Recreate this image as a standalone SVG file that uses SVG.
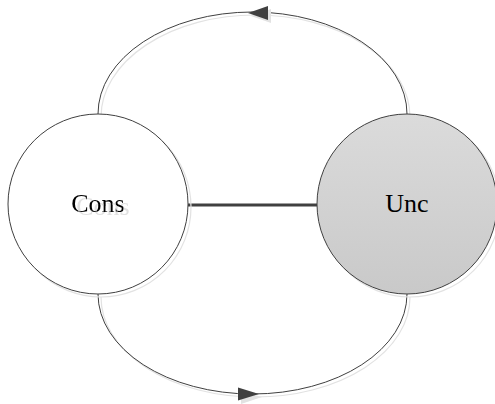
<svg xmlns="http://www.w3.org/2000/svg" width="495" height="404" viewBox="0 0 495 404">
  <defs>
    <linearGradient id="uncFill" x1="0" y1="0" x2="0" y2="1">
      <stop offset="0" stop-color="#dbdbdb"/>
      <stop offset="1" stop-color="#c9c9c9"/>
    </linearGradient>
    <!-- faint offset copy behind node labels -->
    <filter id="textShadow" x="-20%" y="-30%" width="140%" height="160%">
      <feDropShadow dx="5" dy="3" stdDeviation="0.4" flood-color="#d8d8d8" flood-opacity="0.8"/>
    </filter>
  </defs>
  <style>
    .shadow { fill: none; stroke: #e2e2e2; stroke-width: 1.2; }
    .outline { stroke: #404040; stroke-width: 1; }
    .edge { fill: none; stroke: #404040; stroke-width: 1; }
    .head { fill: #404040; }
    .headShadow { fill: #e2e2e2; }
    .label { font-family: "Liberation Serif", "Times New Roman", serif; font-size: 26px; text-anchor: middle; fill: #000; }
  </style>

  <!-- connectors -->
  <g id="connectors">
    <!-- upper arc: Unc back to Cons -->
    <path class="shadow" d="M 101 117 A 154.5 102 0 0 1 410 117"/>
    <path class="edge" d="M 98 114 A 154.5 102 0 0 1 407 114"/>
    <polygon class="headShadow" points="251,16 271,9 271,23"/>
    <polygon class="head" points="248,13 268,6 268,20"/>
    <!-- lower arc: Cons to Unc -->
    <path class="shadow" d="M 101 297 A 154.5 100 0 0 0 410 297"/>
    <path class="edge" d="M 98 294 A 154.5 100 0 0 0 407 294"/>
    <polygon class="headShadow" points="262,397 241,391 241,404"/>
    <polygon class="head" points="259,394 238,387.5 238,400.5"/>
    <!-- straight link -->
    <line x1="188" y1="205" x2="317" y2="205" stroke="#404040" stroke-width="3"/>
  </g>

  <g id="node-cons">
    <circle class="shadow" cx="101" cy="207" r="90"/>
    <circle class="outline" cx="98" cy="204" r="90" fill="#ffffff"/>
    <text class="label" x="98" y="212" filter="url(#textShadow)">Cons</text>
  </g>

  <g id="node-unc">
    <circle class="shadow" cx="410" cy="207" r="90"/>
    <circle class="outline" cx="407" cy="204" r="90" fill="url(#uncFill)"/>
    <text class="label" x="407" y="212">Unc</text>
  </g>
</svg>
